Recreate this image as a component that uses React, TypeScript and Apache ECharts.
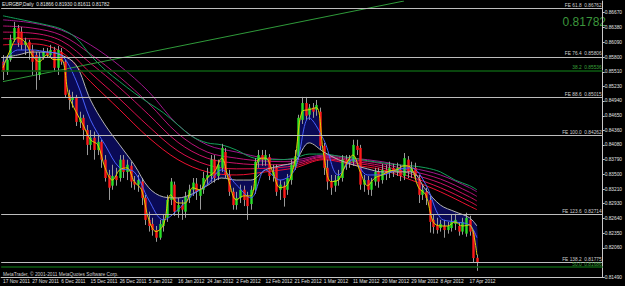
import React, { useEffect, useRef } from "react";
import * as echarts from "echarts";

const TITLE = "EURGBP,Daily  0.81866 0.81930 0.81611 0.81782";
const FOOTER = "MetaTrader, \u00a9 2001-2011 MetaQuotes Software Corp.";
const LAST_PRICE = 0.81782;
const SLOT_COUNT = 165;

const DATE_LABELS = [
  "17 Nov 2011", "27 Nov 2011", "6 Dec 2011", "15 Dec 2011", "26 Dec 2011",
  "5 Jan 2012", "16 Jan 2012", "24 Jan 2012", "2 Feb 2012", "12 Feb 2012",
  "21 Feb 2012", "1 Mar 2012", "11 Mar 2012", "20 Mar 2012", "29 Mar 2012",
  "8 Apr 2012", "17 Apr 2012",
];

const Y_TICKS = [
  0.8667, 0.8638, 0.8609, 0.858, 0.8551, 0.8523, 0.8494, 0.8465, 0.8436,
  0.8408, 0.8379, 0.835, 0.8321, 0.8293, 0.8264, 0.8235, 0.8206, 0.8149,
];

// [open, close, low, high]
const OHLC = [
  [0.8571,0.8551,0.8535,0.8584],[0.8551,0.8575,0.8545,0.8584],[0.8575,0.8614,0.8571,0.8624],
  [0.8614,0.8637,0.8610,0.8649],[0.8637,0.8608,0.8600,0.8643],[0.8630,0.8604,0.8594,0.8639],
  [0.8604,0.8610,0.8584,0.8618],[0.8610,0.8594,0.8575,0.8614],[0.8594,0.8571,0.8545,0.8604],
  [0.8584,0.8551,0.8516,0.8590],[0.8545,0.8581,0.8535,0.8590],[0.8581,0.8590,0.8575,0.8598],
  [0.8590,0.8584,0.8579,0.8598],[0.8584,0.8594,0.8579,0.8604],[0.8594,0.8559,0.8551,0.8600],
  [0.8559,0.8594,0.8545,0.8602],[0.8590,0.8571,0.8565,0.8598],[0.8571,0.8506,0.8500,0.8575],
  [0.8506,0.8496,0.8477,0.8516],[0.8496,0.8502,0.8481,0.8512],[0.8502,0.8453,0.8445,0.8506],
  [0.8453,0.8461,0.8441,0.8473],[0.8461,0.8437,0.8418,0.8467],[0.8437,0.8408,0.8388,0.8447],
  [0.8408,0.8422,0.8398,0.8437],[0.8422,0.8398,0.8379,0.8434],[0.8398,0.8414,0.8388,0.8428],
  [0.8414,0.8379,0.8363,0.8418],[0.8379,0.8343,0.8336,0.8388],[0.8349,0.8324,0.8300,0.8359],
  [0.8328,0.8347,0.8320,0.8369],[0.8347,0.8339,0.8328,0.8363],[0.8343,0.8379,0.8336,0.8388],
  [0.8379,0.8355,0.8343,0.8388],[0.8355,0.8369,0.8339,0.8379],[0.8367,0.8336,0.8324,0.8375],
  [0.8336,0.8330,0.8320,0.8347],[0.8330,0.8339,0.8316,0.8349],[0.8336,0.8304,0.8290,0.8343],
  [0.8304,0.8261,0.8251,0.8310],[0.8261,0.8249,0.8238,0.8277],[0.8253,0.8241,0.8230,0.8265],
  [0.8241,0.8226,0.8218,0.8249],[0.8226,0.8253,0.8222,0.8261],[0.8249,0.8261,0.8238,0.8271],
  [0.8265,0.8300,0.8257,0.8310],[0.8300,0.8336,0.8290,0.8343],[0.8330,0.8277,0.8269,0.8336],
  [0.8277,0.8290,0.8265,0.8304],[0.8290,0.8281,0.8261,0.8300],[0.8277,0.8306,0.8265,0.8316],
  [0.8304,0.8320,0.8294,0.8330],[0.8320,0.8334,0.8308,0.8343],[0.8332,0.8316,0.8300,0.8343],
  [0.8308,0.8320,0.8281,0.8330],[0.8320,0.8343,0.8312,0.8355],[0.8343,0.8349,0.8330,0.8363],
  [0.8347,0.8379,0.8336,0.8388],[0.8379,0.8343,0.8334,0.8388],[0.8347,0.8369,0.8339,0.8379],
  [0.8363,0.8402,0.8355,0.8410],[0.8394,0.8349,0.8343,0.8402],[0.8349,0.8316,0.8308,0.8359],
  [0.8316,0.8290,0.8281,0.8324],[0.8290,0.8304,0.8281,0.8316],[0.8304,0.8320,0.8294,0.8330],
  [0.8320,0.8300,0.8288,0.8328],[0.8308,0.8288,0.8261,0.8316],[0.8292,0.8320,0.8281,0.8328],
  [0.8320,0.8375,0.8312,0.8382],[0.8375,0.8388,0.8363,0.8398],[0.8388,0.8379,0.8367,0.8398],
  [0.8379,0.8388,0.8367,0.8398],[0.8384,0.8347,0.8339,0.8390],[0.8347,0.8355,0.8336,0.8369],
  [0.8363,0.8316,0.8308,0.8369],[0.8320,0.8330,0.8300,0.8339],[0.8328,0.8304,0.8287,0.8336],
  [0.8320,0.8343,0.8310,0.8351],[0.8339,0.8369,0.8330,0.8379],[0.8365,0.8386,0.8359,0.8398],
  [0.8386,0.8461,0.8379,0.8467],[0.8457,0.8490,0.8449,0.8502],[0.8490,0.8465,0.8457,0.8502],
  [0.8467,0.8481,0.8457,0.8488],[0.8481,0.8473,0.8461,0.8490],[0.8477,0.8486,0.8465,0.8496],
  [0.8473,0.8406,0.8398,0.8481],[0.8406,0.8363,0.8349,0.8412],[0.8363,0.8336,0.8320,0.8379],
  [0.8336,0.8324,0.8310,0.8349],[0.8328,0.8339,0.8316,0.8349],[0.8339,0.8347,0.8328,0.8359],
  [0.8343,0.8379,0.8336,0.8388],[0.8379,0.8371,0.8359,0.8388],[0.8373,0.8379,0.8363,0.8388],
  [0.8375,0.8408,0.8367,0.8418],[0.8406,0.8398,0.8388,0.8418],[0.8402,0.8330,0.8320,0.8408],
  [0.8330,0.8339,0.8316,0.8349],[0.8339,0.8320,0.8310,0.8347],[0.8320,0.8336,0.8308,0.8343],
  [0.8336,0.8355,0.8328,0.8363],[0.8355,0.8336,0.8324,0.8363],[0.8339,0.8359,0.8332,0.8371],
  [0.8359,0.8351,0.8339,0.8369],[0.8353,0.8363,0.8343,0.8375],[0.8363,0.8355,0.8345,0.8371],
  [0.8355,0.8363,0.8347,0.8373],[0.8359,0.8347,0.8337,0.8369],[0.8347,0.8382,0.8339,0.8392],
  [0.8379,0.8355,0.8343,0.8386],[0.8355,0.8363,0.8343,0.8375],[0.8363,0.8349,0.8339,0.8373],
  [0.8343,0.8310,0.8294,0.8349],[0.8310,0.8320,0.8300,0.8330],[0.8316,0.8304,0.8290,0.8324],
  [0.8300,0.8257,0.8236,0.8308],[0.8261,0.8247,0.8234,0.8271],[0.8251,0.8241,0.8234,0.8265],
  [0.8245,0.8253,0.8238,0.8261],[0.8249,0.8241,0.8226,0.8261],[0.8241,0.8249,0.8234,0.8257],
  [0.8245,0.8257,0.8238,0.8271],[0.8253,0.8261,0.8241,0.8273],[0.8249,0.8238,0.8230,0.8257],
  [0.8238,0.8257,0.8232,0.8265],[0.8234,0.8265,0.8228,0.8275],[0.8261,0.8238,0.8230,0.8269],
  [0.8238,0.8186,0.8178,0.8241],[0.81866,0.81782,0.81611,0.8193],
];

const SLOW_IDX = [0,4,8,12,16,20,24,28,32,36,40,44,48,52,56,60,64,68,72,76,80,84,88,92,96,100,104,108,112,116,120,124,128,130];
const GREEN_EMA = [0.8661,0.8655,0.8649,0.8643,0.8635,0.8618,0.8584,0.8555,0.8532,0.8510,0.8490,0.8471,0.8447,0.8424,0.8412,0.8408,0.8398,0.8384,0.8379,0.8379,0.8382,0.8390,0.8390,0.8386,0.8382,0.8377,0.8373,0.8369,0.8367,0.8363,0.8355,0.8339,0.8328,0.8320];
const GREY_EMA = [0.8579,0.8584,0.8590,0.8590,0.8584,0.8565,0.8496,0.8447,0.8408,0.8369,0.8324,0.8306,0.8304,0.8312,0.8328,0.8343,0.8339,0.8339,0.8359,0.8367,0.8375,0.8412,0.8394,0.8379,0.8369,0.8361,0.8355,0.8355,0.8355,0.8320,0.8290,0.8277,0.8265,0.8249];
const BLUE_EMA = [0.8565,0.8594,0.8594,0.8590,0.8584,0.8535,0.8457,0.8408,0.8363,0.8355,0.8300,0.8261,0.8281,0.8310,0.8330,0.8359,0.8330,0.8304,0.8359,0.8339,0.8359,0.8461,0.8418,0.8349,0.8379,0.8349,0.8349,0.8359,0.8363,0.8330,0.8265,0.8257,0.8251,0.8226];
// sampled every 2 bars (0..130)
const YELLOW_EMA = [0.8559,0.8594,0.8618,0.8610,0.8584,0.8571,0.8584,0.8575,0.8575,0.8506,0.8473,0.8447,0.8418,0.8408,0.8363,0.8339,0.8359,0.8363,0.8336,0.8320,0.8261,0.8238,0.8251,0.8310,0.8294,0.8294,0.8324,0.8320,0.8343,0.8355,0.8382,0.8336,0.8300,0.8308,0.8308,0.8379,0.8382,0.8355,0.8324,0.8330,0.8375,0.8473,0.8477,0.8481,0.8388,0.8336,0.8339,0.8369,0.8388,0.8355,0.8328,0.8343,0.8349,0.8357,0.8359,0.8367,0.8363,0.8324,0.8310,0.8257,0.8249,0.8249,0.8257,0.8249,0.8251,0.8192];

const BAND_IDX = [0,8,16,24,32,40,48,56,64,72,80,88,96,104,112,120,128,130];
const BAND_1 = [0.8653,0.8647,0.8633,0.8604,0.8563,0.8512,0.8447,0.8408,0.8394,0.8382,0.8379,0.8388,0.8382,0.8375,0.8363,0.8349,0.8324,0.8316];
const BAND_2 = [0.8641,0.8637,0.8623,0.8586,0.8541,0.8489,0.8430,0.8394,0.8382,0.8376,0.8375,0.8386,0.8379,0.8371,0.8357,0.8341,0.8315,0.8307];
const BAND_3 = [0.8629,0.8627,0.8612,0.8568,0.8520,0.8467,0.8413,0.8382,0.8372,0.8369,0.8371,0.8384,0.8376,0.8367,0.8351,0.8333,0.8306,0.8298];
const BAND_4 = [0.8616,0.8616,0.8601,0.8549,0.8498,0.8444,0.8396,0.8369,0.8361,0.8362,0.8367,0.8381,0.8373,0.8363,0.8345,0.8324,0.8297,0.8289];
const BAND_5 = [0.8604,0.8606,0.8590,0.8532,0.8477,0.8422,0.8379,0.8355,0.8349,0.8355,0.8363,0.8379,0.8369,0.8359,0.8339,0.8316,0.8288,0.8281];

const TREND_LINE = [[0, 0.8532], [110, 0.869]];

const FE_LEVELS = [
  { label: "FE 61.8  0.86762", value: 0.86762 },
  { label: "FE 76.4  0.85806", value: 0.85806 },
  { label: "FE 88.6  0.85015", value: 0.85015 },
  { label: "FE 100.0  0.84262", value: 0.84262 },
  { label: "FE 123.6  0.82714", value: 0.82714 },
  { label: "FE 138.2  0.81775", value: 0.81775 },
];
const FIB_LEVELS = [
  { label: "38.2  0.85536", value: 0.85536 },
  { label: "50.0  0.81686", value: 0.81686 },
];

const FONT = "Liberation Sans";
const BAND_COLORS = ["#a0168c", "#b8137a", "#cc1166", "#de0f4c", "#ee1030"];

export default function App() {
  const ref = useRef<HTMLDivElement>(null);

  useEffect(() => {
    document.body.style.margin = "0";
    document.body.style.background = "#000";
    const chart = echarts.init(ref.current!, null, { renderer: "svg" });
    const cats = Array.from({ length: SLOT_COUNT }, (_, i) => String(i));
    const pairs = (idx: number[], vals: number[]) => vals.map((v, k) => [idx[k], v]);
    const yellowIdx = YELLOW_EMA.map((_, k) => Math.min(k * 2, 130));
    const labelShown = (i: number) => i % 8 === 0 && i / 8 < DATE_LABELS.length;

    const lineSeries = (data: number[][], color: string, z: number, width = 1) => ({
      type: "line",
      data,
      symbol: "none",
      smooth: 0.35,
      silent: true,
      z,
      lineStyle: { color, width },
    });

    const levelLabel = (text: string, color: string) => ({
      show: true,
      position: "insideEndTop",
      formatter: text,
      color,
      fontSize: 4.8,
      fontFamily: FONT,
      distance: [1, 0.5],
    });

    const option: any = {
      animation: false,
      backgroundColor: "#000",
      grid: { left: 1, right: 18, top: 1, bottom: 9 },
      xAxis: {
        type: "category",
        data: cats,
        boundaryGap: true,
        axisLine: { lineStyle: { color: "#c8c8c8", width: 1 } },
        axisTick: {
          interval: (i: number) => labelShown(i),
          length: 2,
          alignWithLabel: true,
          lineStyle: { color: "#c8c8c8" },
        },
        axisLabel: {
          interval: (i: number) => labelShown(i),
          formatter: (_v: string, i: number) => DATE_LABELS[i / 8] ?? "",
          align: "left",
          margin: 2,
          fontSize: 4.8,
          fontFamily: FONT,
          color: "#e0e0e0",
          hideOverlap: false,
        },
        splitLine: { show: false },
      },
      yAxis: {
        type: "value",
        position: "right",
        min: 0.8149,
        max: 0.869,
        axisLine: { show: true, lineStyle: { color: "#c8c8c8", width: 1 } },
        axisTick: { show: true, length: 2, customValues: Y_TICKS, lineStyle: { color: "#c8c8c8" } },
        axisLabel: {
          customValues: Y_TICKS,
          formatter: (v: number) => v.toFixed(5),
          margin: 2,
          fontSize: 4.8,
          fontFamily: FONT,
          color: "#e0e0e0",
        },
        splitLine: { show: false },
      },
      series: [
        {
          type: "custom",
          silent: true,
          z: 1,
          data: [[0, YELLOW_EMA[0]]],
          encode: { x: 0, y: 1 },
          renderItem: (_p: any, api: any) => {
            const top = YELLOW_EMA.map((v, k) => api.coord([yellowIdx[k], v]));
            const bottom = GREY_EMA.map((v, k) => api.coord([SLOW_IDX[k], v])).reverse();
            return {
              type: "polygon",
              shape: { points: top.concat(bottom), smooth: 0.3 },
              style: { fill: "#0a0a55", opacity: 1 },
            };
          },
        },
        {
          type: "line",
          data: [],
          silent: true,
          z: 2,
          markLine: {
            silent: true,
            symbol: "none",
            precision: 5,
            animation: false,
            data: [
              ...FE_LEVELS.map((l) => ({
                yAxis: l.value,
                lineStyle: { color: "#bdbdbd", width: 1, type: "solid" },
                label: levelLabel(l.label, "#cfcfcf"),
              })),
              ...FIB_LEVELS.map((l) => ({
                yAxis: l.value,
                lineStyle: { color: "#0d5c12", width: 1.5, type: "solid" },
                label: levelLabel(l.label, "#3aa03a"),
              })),
              {
                yAxis: LAST_PRICE,
                lineStyle: { opacity: 0 },
                label: {
                  show: true,
                  position: "end",
                  formatter: LAST_PRICE.toFixed(5),
                  color: "#000",
                  backgroundColor: "#dcdcdc",
                  padding: [1, 2],
                  fontSize: 4.8,
                  fontFamily: FONT,
                  distance: 1,
                },
              },
            ],
          },
        },
        ...[BAND_1, BAND_2, BAND_3, BAND_4, BAND_5].map((b, k) =>
          lineSeries(pairs(BAND_IDX, b), BAND_COLORS[k], 2)
        ),
        lineSeries(pairs(SLOW_IDX, GREEN_EMA), "#14a05a", 2),
        {
          type: "line",
          data: TREND_LINE,
          symbol: "none",
          silent: true,
          clip: true,
          z: 2,
          lineStyle: { color: "#2f9a3a", width: 1 },
        },
        {
          type: "custom",
          silent: true,
          z: 3,
          data: OHLC.map((c, i) => [i, c[0], c[1], c[2], c[3]]),
          encode: { x: 0, y: [1, 2, 3, 4] },
          renderItem: (_p: any, api: any) => {
            const i = api.value(0);
            const o = api.value(1);
            const c = api.value(2);
            const pO = api.coord([i, o]);
            const pC = api.coord([i, c]);
            const pL = api.coord([i, api.value(3)]);
            const pH = api.coord([i, api.value(4)]);
            const cx = Math.round(pO[0]) + 0.5;
            const top = Math.min(pO[1], pC[1]);
            const h = Math.max(1, Math.abs(pO[1] - pC[1]));
            return {
              type: "group",
              children: [
                {
                  type: "line",
                  shape: { x1: cx, y1: pH[1], x2: cx, y2: pL[1] },
                  style: { stroke: "#9a9a9a", lineWidth: 1 },
                },
                {
                  type: "rect",
                  shape: { x: cx - 1.2, y: top, width: 2.4, height: h },
                  style: { fill: c >= o ? "#28e028" : "#ff1a1a" },
                },
              ],
            };
          },
        },
        lineSeries(pairs(SLOW_IDX, GREY_EMA), "#b4b4b4", 4),
        lineSeries(pairs(SLOW_IDX, BLUE_EMA), "#4a62ff", 4),
        lineSeries(pairs(yellowIdx, YELLOW_EMA), "#e0d000", 4),
      ],
      graphic: [
        {
          type: "text",
          left: 2,
          top: 2,
          silent: true,
          style: { text: TITLE, fill: "#e8e8e8", fontSize: 4.8, fontFamily: FONT },
        },
        {
          type: "text",
          x: 3,
          y: 272,
          silent: true,
          style: { text: FOOTER, fill: "#d0d0d0", fontSize: 4.8, fontFamily: FONT },
        },
        {
          type: "text",
          x: 606,
          y: 22,
          silent: true,
          style: {
            text: LAST_PRICE.toFixed(5),
            fill: "#3c963c",
            fontSize: 12,
            fontFamily: FONT,
            align: "right",
            verticalAlign: "middle",
          },
        },
      ],
    };

    chart.setOption(option);
    return () => chart.dispose();
  }, []);

  return (
    <div
      ref={ref}
      style={{ position: "fixed", left: 0, top: 0, width: 625, height: 286, background: "#000" }}
    />
  );
}
